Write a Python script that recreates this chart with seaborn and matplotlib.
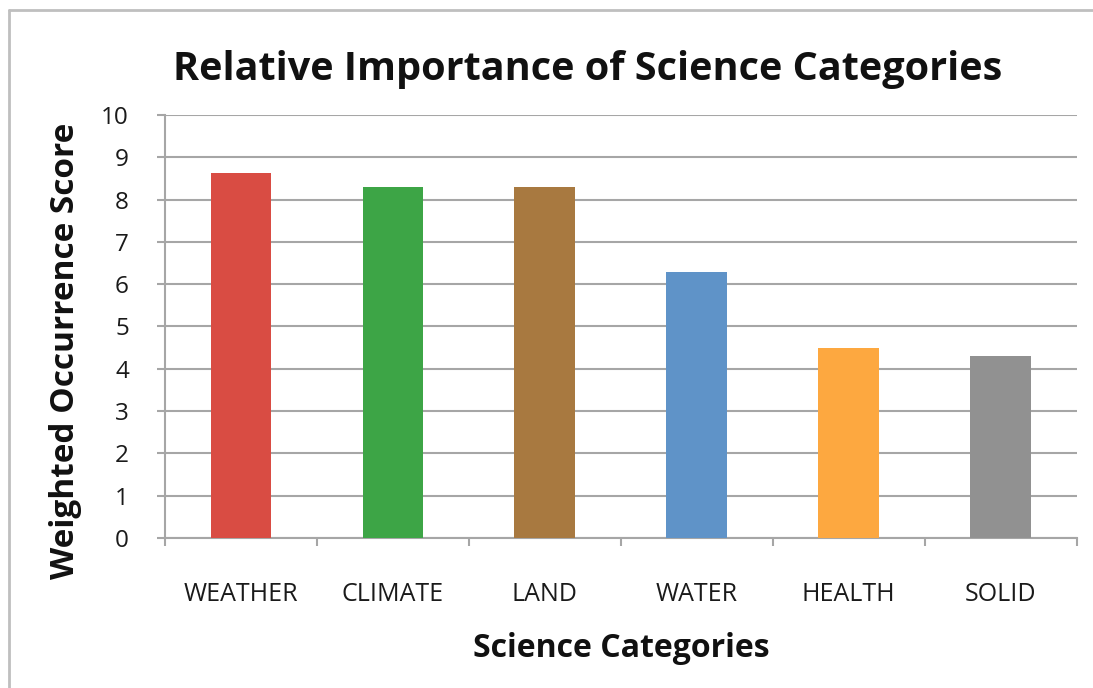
import matplotlib
matplotlib.use("Agg")
import matplotlib.pyplot as plt
from matplotlib.lines import Line2D
import seaborn as sns
import pandas as pd

# chart values
categories = ["WEATHER", "CLIMATE", "LAND", "WATER", "HEALTH", "SOLID"]
scores = [8.63, 8.29, 8.29, 6.28, 4.48, 4.29]
bar_colors = ["#D94C43", "#3DA546", "#A87940", "#5F93C8", "#FDA840", "#919191"]
y_ticks = list(range(0, 11))

df = pd.DataFrame({"category": categories, "score": scores})

sns.set_style("white")
plt.rcParams["font.family"] = ["Open Sans", "DejaVu Sans"]

fig = plt.figure(figsize=(10.93, 6.88), dpi=100)
ax = fig.add_axes([0.151, 0.218, 0.834, 0.615])

sns.barplot(data=df, x="category", y="score", hue="category",
            palette=bar_colors, width=0.4, legend=False, ax=ax,
            saturation=1, linewidth=0, zorder=3)

ax.set_ylim(0, 10)
ax.set_xlim(-0.5, len(categories) - 0.5)
ax.set_yticks(y_ticks)
ax.yaxis.grid(True, color="#A6A6A6", linewidth=1.5, zorder=0)
ax.set_axisbelow(True)

for s in ["top", "right"]:
    ax.spines[s].set_visible(False)
for s in ["left", "bottom"]:
    ax.spines[s].set_color("#A6A6A6")
    ax.spines[s].set_linewidth(1.5)

ax.tick_params(axis="y", direction="out", length=6, width=1.5, color="#A6A6A6",
               labelsize=17.5, labelcolor="#1A1A1A", left=True, pad=20)
ax.tick_params(axis="x", which="major", length=0, labelsize=18,
               labelcolor="#1A1A1A", pad=32)
ax.set_xticks([i - 0.5 for i in range(len(categories) + 1)], minor=True)
ax.tick_params(axis="x", which="minor", direction="out", length=6, width=1.5,
               color="#A6A6A6", bottom=True)

ax.set_xlabel("Science Categories", fontsize=23, fontweight="bold", labelpad=18,
              color="#111111")
ax.set_ylabel("Weighted Occurrence Score", fontsize=24, fontweight="bold",
              color="#111111")
ax.yaxis.set_label_coords(-0.091, 0.442)
fig.suptitle("Relative Importance of Science Categories", fontsize=28.5,
             fontweight="bold", x=0.538, y=0.928, color="#111111")

# chart border (left and top edges visible in the reference)
fig.add_artist(Line2D([9 / 1093, 9 / 1093], [0, 1 - 10 / 688],
                      transform=fig.transFigure, color="#BFBFBF", linewidth=2))
fig.add_artist(Line2D([9 / 1093, 1], [1 - 10 / 688, 1 - 10 / 688],
                      transform=fig.transFigure, color="#BFBFBF", linewidth=2))

fig.savefig("out.png", dpi=100, facecolor="white")
